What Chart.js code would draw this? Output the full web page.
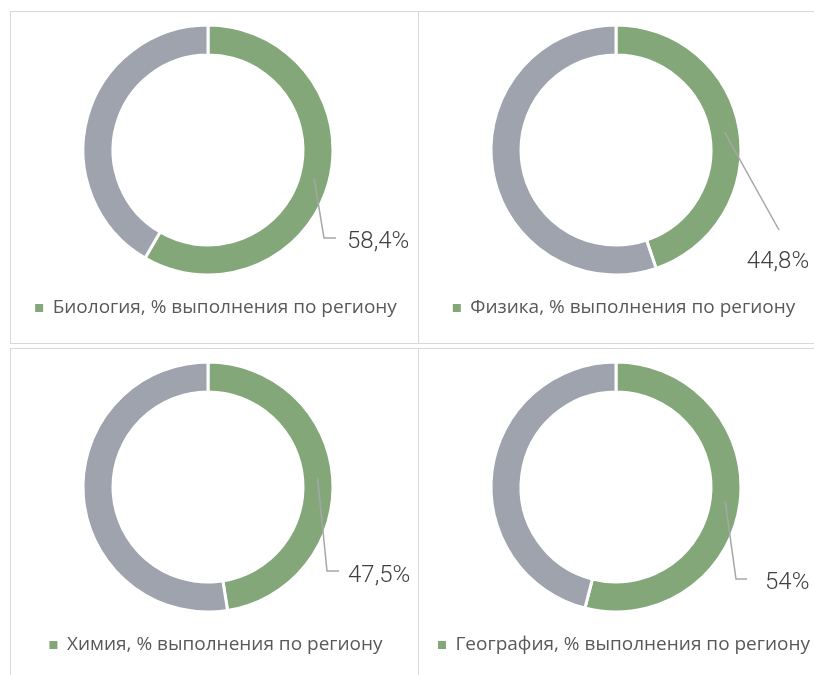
<!DOCTYPE html>
<html lang="ru">
<head>
<meta charset="utf-8">
<title>Выполнение по региону</title>
<script src="https://cdn.jsdelivr.net/npm/chart.js@4.4.1/dist/chart.umd.min.js"></script>
<style>
  body { margin: 0; background: #fff; overflow: hidden; }
  .panel { position: absolute; box-sizing: border-box; border: 1px solid #d9d9d9; overflow: hidden; }
  .panel canvas { position: absolute; left: 0; top: 0; }
</style>
</head>
<body>
<div class="panel" style="left:10px;top:11px;width:409px;height:333px"><canvas id="chart0" width="407" height="331"></canvas></div>
<div class="panel" style="left:418px;top:11px;width:420px;height:333px"><canvas id="chart1" width="407" height="331"></canvas></div>
<div class="panel" style="left:10px;top:348px;width:409px;height:340px"><canvas id="chart2" width="407" height="331"></canvas></div>
<div class="panel" style="left:418px;top:348px;width:420px;height:340px"><canvas id="chart3" width="407" height="331"></canvas></div>
<script>
// данные: процент выполнения по региону и остаток до 100
const subjects = ['Биология', 'Физика', 'Химия', 'География'];
const regionScores = [58.4, 44.8, 47.5, 54];
const remainders = [41.6, 55.2, 52.5, 46];
const legendSuffix = ', % выполнения по региону';

// выноски подписей: смещения от центра кольца (излом, конец линии, точка текста)
const callouts = [
  { elbow: [116, 88], end: [128, 88], text: [139, 98], align: 'left' },
  { elbow: null, end: [163, 80], text: [162, 118], align: 'center' },
  { elbow: [119, 84], end: [131, 84], text: [140, 95], align: 'left' },
  { elbow: [120, 92], end: [131, 92], text: [149, 102], align: 'left' }
];

const GREEN = '#84a77a';
const GRAY = '#9ea3ae';
const FONT = "'Open Sans', 'Noto Sans', sans-serif";

// подпись значения с линией-выноской от середины зелёного сегмента
const calloutPlugin = {
  id: 'callout',
  afterDatasetsDraw(chart, args, opts) {
    const arc = chart.getDatasetMeta(0).data[0];
    const { x, y, startAngle, endAngle, innerRadius, outerRadius } =
      arc.getProps(['x', 'y', 'startAngle', 'endAngle', 'innerRadius', 'outerRadius'], true);
    const mid = (startAngle + endAngle) / 2;
    const r = (innerRadius + outerRadius) / 2;
    const c = opts.layout;
    const ctx = chart.ctx;

    ctx.save();
    ctx.strokeStyle = '#a6a6a6';
    ctx.lineWidth = 1.5;
    ctx.beginPath();
    ctx.moveTo(x + Math.cos(mid) * r, y + Math.sin(mid) * r);
    if (c.elbow) ctx.lineTo(x + c.elbow[0], y + c.elbow[1]);
    ctx.lineTo(x + c.end[0], y + c.end[1]);
    ctx.stroke();

    const value = chart.data.datasets[0].data[0];
    ctx.font = "300 24px Roboto, 'Open Sans', sans-serif";
    ctx.fillStyle = '#404040';
    ctx.textAlign = c.align;
    ctx.textBaseline = 'alphabetic';
    ctx.fillText(value.toLocaleString('ru-RU') + '%', x + c.text[0], y + c.text[1]);
    ctx.restore();
  }
};

// легенда чуть правее центра кольца
const legendShift = {
  id: 'legendShift',
  afterLayout(chart) {
    chart.legend.left += 8;
    chart.legend.right += 8;
  }
};

subjects.forEach((name, i) => {
  new Chart(document.getElementById('chart' + i), {
    type: 'doughnut',
    data: {
      labels: [name + legendSuffix, ''],
      datasets: [{
        data: [regionScores[i], remainders[i]],
        backgroundColor: [GREEN, GRAY],
        borderColor: '#ffffff',
        borderWidth: 3
      }]
    },
    options: {
      responsive: false,
      animation: false,
      radius: 125,
      cutout: '76%',
      layout: { padding: { top: 9.5, bottom: 15.5, left: 0, right: 13 } },
      plugins: {
        tooltip: { enabled: false },
        legend: {
          position: 'bottom',
          labels: {
            boxWidth: 8,
            boxHeight: 8,
            padding: 20,
            color: '#595959',
            font: { family: FONT, size: 19 },
            generateLabels(chart) {
              const items = Chart.overrides.doughnut.plugins.legend.labels.generateLabels(chart);
              return items.slice(0, 1).map(item => Object.assign(item, { lineWidth: 0 }));
            }
          }
        },
        callout: { layout: callouts[i] }
      }
    },
    plugins: [calloutPlugin, legendShift]
  });
});
</script>
</body>
</html>
